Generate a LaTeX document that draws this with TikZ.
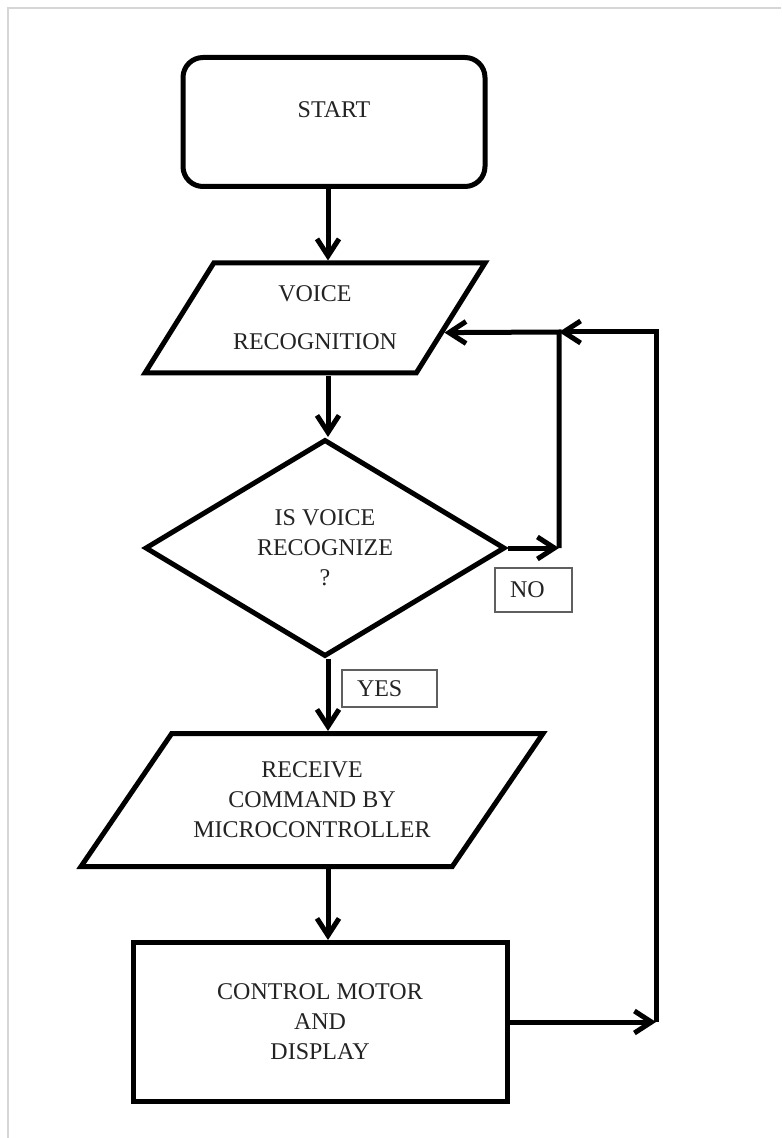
\documentclass[tikz,border=0pt]{standalone}
\usepackage{fontspec}
\setmainfont{Liberation Serif}
\usepackage{tikz}
\usetikzlibrary{arrows.meta,positioning,calc,shapes.geometric}
\definecolor{flowInk}{RGB}{0,0,0}
\definecolor{flowText}{RGB}{35,35,35}
\definecolor{flowTag}{RGB}{95,95,95}
\definecolor{flowFrame}{RGB}{214,214,214}

\begin{document}
\begin{tikzpicture}[x=0.5pt, y=-0.5pt, >={Straight Barb[length=8.5pt,width=11pt]}, font=\fontsize{12}{15}\selectfont]
\tikzstyle{term}=[draw=flowInk, line width=2.5pt, rounded corners=10pt, text=flowText, align=center, minimum width=151pt, minimum height=64.5pt]
\tikzstyle{io}=[draw=flowInk, line width=2.5pt, trapezium, trapezium stretches body, text=flowText, align=center, inner sep=0pt]
\tikzstyle{decide}=[draw=flowInk, line width=2.5pt, diamond, text=flowText, align=center, inner sep=0pt, minimum width=180pt, minimum height=108.5pt]
\tikzstyle{proc}=[draw=flowInk, line width=2.5pt, text=flowText, align=center, minimum width=187pt, minimum height=79.5pt]
\tikzstyle{tag}=[draw=flowTag, line width=0.6pt, text=flowText, align=left, inner xsep=7.5pt, inner ysep=0pt]
\tikzstyle{flow}=[->, draw=flowInk, line width=2.5pt]
\useasboundingbox (0,0) rectangle (781,1138);
\draw[flowFrame, line width=1.2pt] (8,1138) -- (8,8) -- (781,8);
% flow boxes
\node[term, text depth=12pt] (start) at (334,122) {START};
\node[io, trapezium left angle=43, trapezium right angle=137, minimum width=170pt, minimum height=55pt] (voice) at (315,318) {VOICE\\[9pt]RECOGNITION};
\node[decide] (check) at (325,548) {IS VOICE\\RECOGNIZE\\?};
\node[io, trapezium left angle=40, trapezium right angle=140, minimum width=231pt, minimum height=66.5pt] (command) at (312,800) {RECEIVE\\COMMAND BY\\MICROCONTROLLER};
\node[proc] (motor) at (320,1022) {CONTROL MOTOR\\AND\\DISPLAY};
\node[tag, text width=23.5pt, minimum height=22pt] (no) at (533.5,590) {NO};
\node[tag, text width=32.5pt, minimum height=18.5pt] (yes) at (389.5,688.5) {YES};
% main line and loop
\coordinate (axis) at (328,0);
\coordinate (noline) at (559,332);
\coordinate (backline) at (656,332);
\coordinate (voicein) at ($(voice.bottom right corner)!0.373!(voice.top right corner)$);
\draw[flow] (start.south -| axis) -- (voice.north -| axis);
\draw[flow] (voice.south -| axis) -- (check.north -| axis);
\draw[flow] (check.south -| axis) -- (command.north -| axis);
\draw[flow] (command.south -| axis) -- (motor.north -| axis);
\draw[flow] (check.east) -- (check.east -| noline);
\draw[flow] (check.east -| noline) -- (noline) -- (voicein);
\draw[flow] (motor.east) -- (motor.east -| backline);
\draw[flow] (motor.east -| backline) -- (backline) -- (noline);
\end{tikzpicture}
\end{document}
